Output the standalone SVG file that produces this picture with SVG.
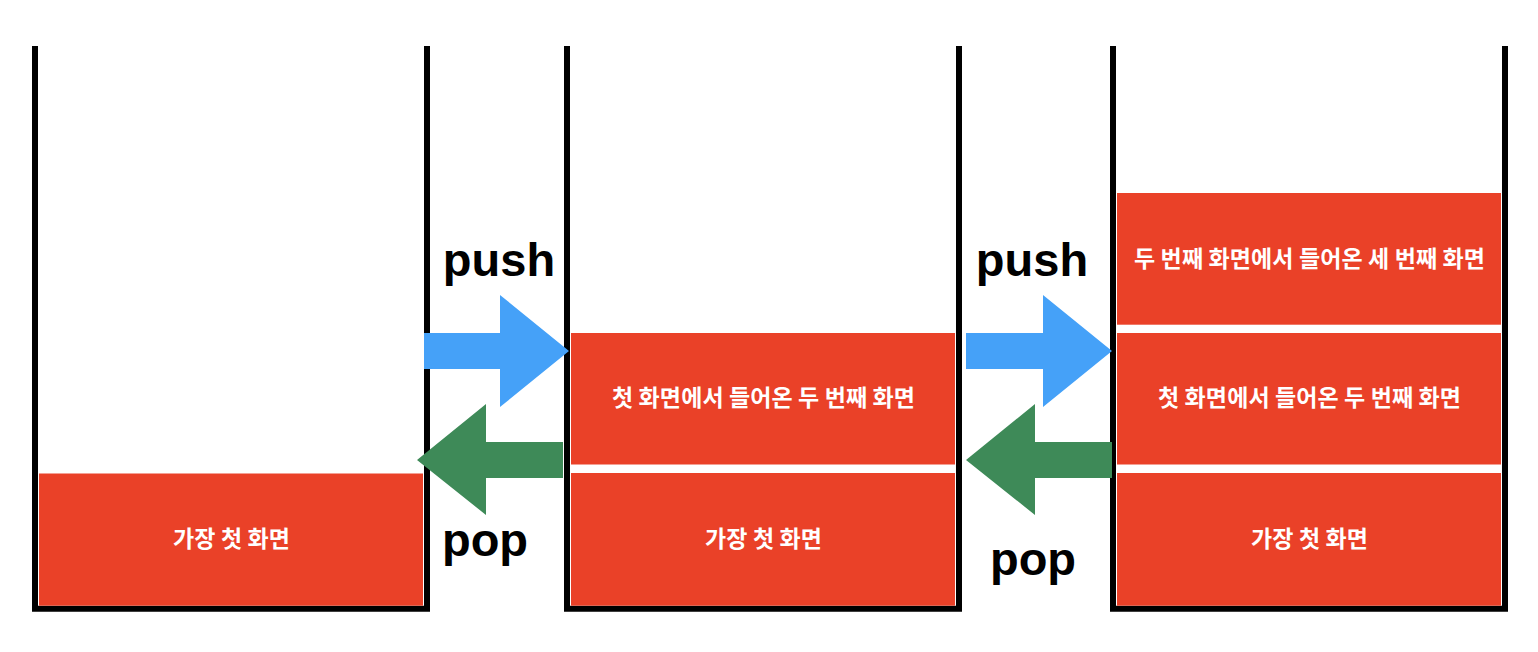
<svg xmlns="http://www.w3.org/2000/svg" width="1538" height="652" viewBox="0 0 1538 652">
<style>
.wall{fill:none;stroke:#000;stroke-width:6;stroke-linejoin:miter}
.blk{fill:#EA4128}
.lbl{fill:#fff;font-family:"Noto Sans CJK KR","Noto Sans",sans-serif;font-size:23px;font-weight:bold;letter-spacing:-1px;text-anchor:middle;dominant-baseline:central}
.op{fill:#000;font-family:"Liberation Sans",Arial,sans-serif;font-size:47px;font-weight:bold;text-anchor:middle}
.push{fill:#45A1F8}
.pop{fill:#3E8A58}
</style>
<rect width="1538" height="652" fill="#fff"/>
<g id="stack1">
<path class="wall" d="M35,46 V608.7 H427 V46"/>
<g id="s1-first"><rect class="blk" x="39" y="473.5" width="384" height="132.2"/><text class="lbl" x="231" y="537.3" textLength="116" lengthAdjust="spacing">가장 첫 화면</text></g>
</g>
<g id="stack2">
<path class="wall" d="M567,46 V608.7 H959 V46"/>
<g id="s2-second"><rect class="blk" x="571" y="333" width="384" height="131.5"/><text class="lbl" x="763" y="396.4" textLength="302" lengthAdjust="spacing">첫 화면에서 들어온 두 번째 화면</text></g>
<g id="s2-first"><rect class="blk" x="571" y="473" width="384" height="132.7"/><text class="lbl" x="763" y="537.1" textLength="116" lengthAdjust="spacing">가장 첫 화면</text></g>
</g>
<g id="stack3">
<path class="wall" d="M1113,46 V608.7 H1505 V46"/>
<g id="s3-third"><rect class="blk" x="1117" y="193" width="384" height="131.7"/><text class="lbl" x="1309" y="256.5" textLength="350" lengthAdjust="spacing">두 번째 화면에서 들어온 세 번째 화면</text></g>
<g id="s3-second"><rect class="blk" x="1117" y="333" width="384" height="131.5"/><text class="lbl" x="1309" y="396.4" textLength="302" lengthAdjust="spacing">첫 화면에서 들어온 두 번째 화면</text></g>
<g id="s3-first"><rect class="blk" x="1117" y="473" width="384" height="132.7"/><text class="lbl" x="1309" y="537.1" textLength="116" lengthAdjust="spacing">가장 첫 화면</text></g>
</g>
<g id="connectors">
<polygon class="push" points="424,333 500,333 500,295 569,351 500,407 500,369 424,369"/>
<polygon class="pop" points="417,460 486,404 486,442 563,442 563,478 486,478 486,515"/>
<polygon class="push" points="966,333 1043,333 1043,295 1112,351 1043,407 1043,369 966,369"/>
<polygon class="pop" points="966,460 1035,404 1035,442 1112,442 1112,478 1035,478 1035,515"/>
<text class="op" x="499" y="276">push</text>
<text class="op" x="485" y="556">pop</text>
<text class="op" x="1032" y="276">push</text>
<text class="op" x="1033" y="575">pop</text>
</g>
</svg>
